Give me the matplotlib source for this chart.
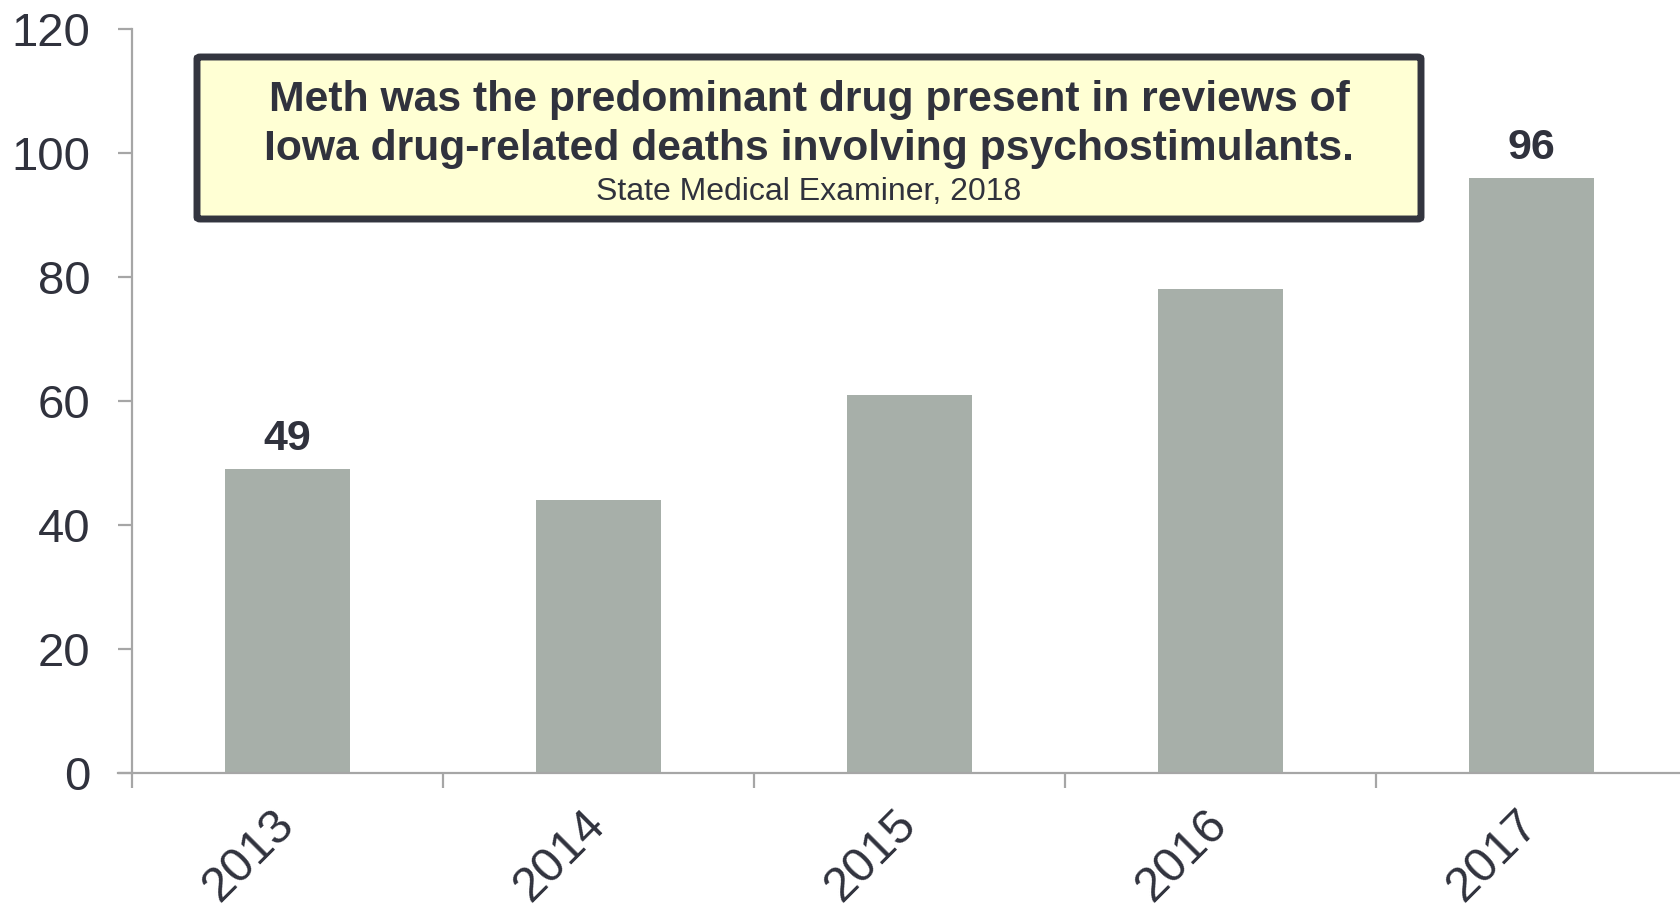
import matplotlib
matplotlib.use("Agg")
import matplotlib.pyplot as plt
from matplotlib.patches import FancyBboxPatch
from matplotlib import font_manager as fm

years = ["2013", "2014", "2015", "2016", "2017"]
deaths = [49, 44, 61, 78, 96]
labelled = {"2013": 49, "2017": 96}
yticks = [0, 20, 40, 60, 80, 100, 120]
title_lines = "Meth was the predominant drug present in reviews of\nIowa drug-related deaths involving psychostimulants."
source = "State Medical Examiner, 2018"

names = {f.name for f in fm.fontManager.ttflist}
narrow = "Liberation Sans Narrow" if "Liberation Sans Narrow" in names else "Liberation Sans"
plt.rcParams["font.family"] = ["Liberation Sans", "DejaVu Sans"]

TXT = "#30323d"
AX = "#a6a6a6"
BAR = "#a7afa9"

W, H = 1680, 911
fig = plt.figure(figsize=(W / 100, H / 100), dpi=100)
left, right, top, bottom = 132, 1687, 29, 773
ax = fig.add_axes([left / W, 1 - bottom / H, (right - left) / W, (bottom - top) / H])

x = list(range(len(years)))
centers = [i + 0.5 for i in x]
ax.bar(centers, deaths, width=0.4, color=BAR, zorder=2)
ax.set_xlim(0, len(years))
ax.set_ylim(0, 120)

for c, yr, v in zip(centers, years, deaths):
    if yr in labelled:
        ax.annotate(str(v), (c, v), xytext=(0, 10), textcoords="offset pixels",
                    ha="center", va="bottom", fontsize=31, fontweight="bold", color=TXT)

for s in ["top", "right"]:
    ax.spines[s].set_visible(False)
for s in ["left", "bottom"]:
    ax.spines[s].set_color(AX)
    ax.spines[s].set_linewidth(1.6)
ax.spines["bottom"].set_bounds(-0.045, len(years))

ax.set_yticks(yticks)
ax.set_yticklabels([str(t) for t in yticks], fontsize=34, color=TXT)
ax.tick_params(axis="y", length=10, width=1.6, color=AX, pad=20)

ax.set_xticks(centers)
ax.set_xticklabels(years, fontsize=35, color=TXT, rotation=45,
                   ha="right", va="center", rotation_mode="anchor")
ax.tick_params(axis="x", which="major", length=0, pad=32)
ax.set_xticks(x, minor=True)
ax.tick_params(axis="x", which="minor", length=11, width=1.6, color=AX)

# annotation box (figure pixel coordinates)
bx0, bx1, by0, by1 = 197, 1421, 57, 219
box = FancyBboxPatch((bx0 / W, 1 - by1 / H), (bx1 - bx0) / W, (by1 - by0) / H,
                     boxstyle="round,pad=0,rounding_size=0.002",
                     transform=fig.transFigure, facecolor="#ffffd4",
                     edgecolor="#33353f", linewidth=5, zorder=5)
fig.patches.append(box)
cx = 809 / W
fig.text(cx, 1 - 111 / H, title_lines.split("\n")[0], ha="center", va="baseline", fontsize=30.7,
         fontweight="bold", color=TXT, family=[narrow, "DejaVu Sans"], zorder=6)
fig.text(cx, 1 - 160 / H, title_lines.split("\n")[1], ha="center", va="baseline", fontsize=30.7,
         fontweight="bold", color=TXT, family=[narrow, "DejaVu Sans"], zorder=6)
fig.text(cx, 1 - 200 / H, source, ha="center", va="baseline", fontsize=23,
         color=TXT, family=[narrow, "DejaVu Sans"], zorder=6)

fig.savefig("out.png", dpi=100)
